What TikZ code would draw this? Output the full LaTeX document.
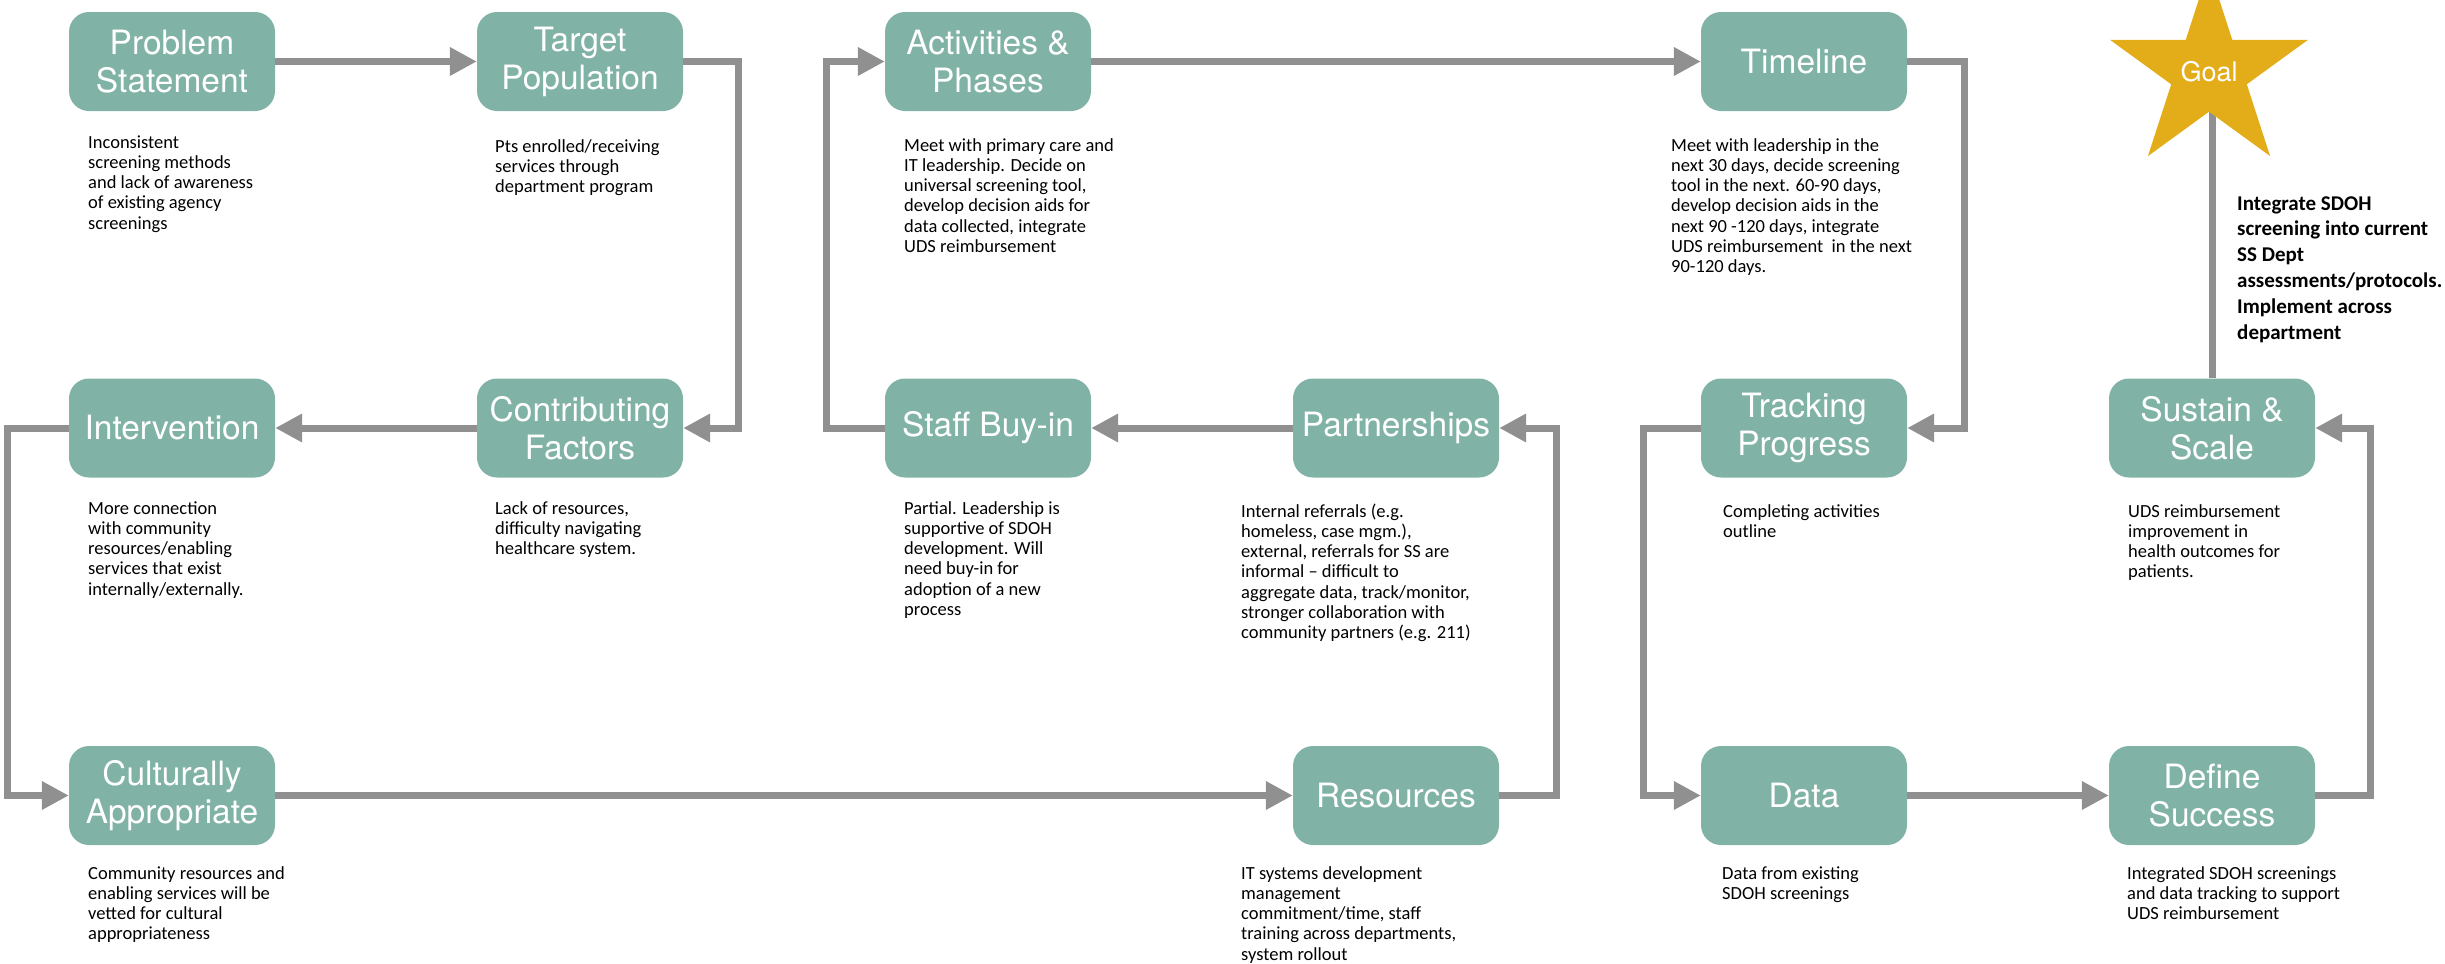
\documentclass[tikz,border=0pt]{standalone}
\usepackage{fontspec}
\setmainfont{Carlito}
\newfontfamily\headfont{TeX Gyre Heros}
\usetikzlibrary{arrows.meta}

\definecolor{boxteal}{HTML}{80B3A6}
\definecolor{goalgold}{HTML}{E3AD1A}
\definecolor{linkgray}{HTML}{909090}

\tikzset{
  stepbox/.style={draw=none, fill=boxteal, rounded corners=20pt,
    minimum width=206pt, minimum height=99pt, inner sep=0pt,
    align=center, text=white,
    font=\headfont\fontsize{33.5}{38}\selectfont},
  % descriptions are placed by the baseline of their last line
  desc/.style={anchor=base west, align=left, inner sep=0pt,
    font=\fontsize{18.5}{20.3}\selectfont},
  goaltext/.style={anchor=base west, align=left, inner sep=0pt,
    font=\bfseries\fontsize{21}{25.8}\selectfont},
  link/.style={draw=linkgray, line width=7pt, line join=miter},
  flow/.style={link, -{Triangle[length=27pt,width=27pt]}}
}

\begin{document}
\begin{tikzpicture}[x=1pt, y=-1pt]
\useasboundingbox (0,0) rectangle (2445,964);
\clip (0,0) rectangle (2445,964);

% ---- step boxes: three rows on a regular grid
\node[stepbox] (ps)  at (172,61.5)   {Problem\\Statement};
\node[stepbox] (tp)  at (580,61.5)   {Target\\Population};
\node[stepbox] (ap)  at (988,61.5)   {Activities \&\\Phases};
\node[stepbox] (tl)  at (1804,61.5)  {Timeline};

\node[stepbox] (iv)  at (172,428)    {Intervention};
\node[stepbox] (cf)  at (580,428)    {Contributing\\Factors};
\node[stepbox] (sb)  at (988,428)    {Staff Buy-in};
\node[stepbox] (pa)  at (1396,428)   {Partnerships};
\node[stepbox] (tr)  at (1804,428)   {Tracking\\Progress};
\node[stepbox] (ss)  at (2212,428)   {Sustain \&\\Scale};

\node[stepbox] (ca)  at (172,795.5)  {Culturally\\Appropriate};
\node[stepbox] (re)  at (1396,795.5) {Resources};
\node[stepbox] (da)  at (1804,795.5) {Data};
\node[stepbox] (ds)  at (2212,795.5) {Define\\Success};

% ---- connectors
\draw[flow] (ps.east) -- (tp.west);
\draw[flow] (tp.east) -- ++(55,0) |- (cf.east);
\draw[flow] (cf.west) -- (iv.east);
\draw[flow] (iv.west) -- ++(-61,0) |- (ca.west);
\draw[flow] (ca.east) -- (re.west);
\draw[flow] (re.east) -- ++(57,0) |- (pa.east);
\draw[flow] (pa.west) -- (sb.east);
\draw[flow] (sb.west) -- ++(-58,0) |- (ap.west);
\draw[flow] (ap.east) -- (tl.west);
\draw[flow] (tl.east) -- ++(57,0) |- (tr.east);
\draw[flow] (tr.west) -- ++(-57,0) |- (da.west);
\draw[flow] (da.east) -- (ds.west);
\draw[flow] (ds.east) -- ++(55,0) |- (ss.east);

% ---- goal star on a stem above Sustain & Scale
\coordinate (gc) at (2209,72);
\draw[link] (gc -| ss.north) -- (ss.north);
\fill[goalgold] (gc)
  ++(0,-104) -- ++(23.3,71.9) -- ++(75.6,0) -- ++(-61.1,44.4)
  -- ++(23.3,71.8) -- ++(-61.1,-44.4) -- ++(-61.1,44.4)
  -- ++(23.3,-71.8) -- ++(-61.1,-44.4) -- ++(75.6,0) -- cycle;
\node[text=white, font=\headfont\fontsize{27}{30}\selectfont, inner sep=0pt] (goal) at (gc) {Goal};

% ---- descriptions under each step
\node[desc] (psd) at (88,229.2) {Inconsistent\\screening methods\\and lack of awareness\\of existing agency\\screenings};
\node[desc] (tpd) at (495,192.6) {Pts enrolled/receiving\\services through\\department program};
\node[desc] (apd) at (904,252.5) {Meet with primary care and\\IT leadership. Decide on\\universal screening tool,\\develop decision aids for\\data collected, integrate\\UDS reimbursement};
\node[desc] (tld) at (1671,272.8) {Meet with leadership in the\\next 30 days, decide screening\\tool in the next. 60-90 days,\\develop decision aids in the\\next 90 -120 days, integrate\\UDS reimbursement\ \ in the next\\90-120 days.};
\node[goaltext] (gd) at (2237,339) {Integrate SDOH\\screening into current\\SS Dept\\assessments/protocols.\\Implement across\\department};

\node[desc] (ivd) at (88,595.2) {More connection\\with community\\resources/enabling\\services that exist\\internally/externally.};
\node[desc] (cfd) at (495,554.6) {Lack of resources,\\difficulty navigating\\healthcare system.};
\node[desc] (sbd) at (904,615.5) {Partial. Leadership is\\supportive of SDOH\\development. Will\\need buy-in for\\adoption of a new\\process};
\node[desc] (pad) at (1241,638.8) {Internal referrals (e.g.\\homeless, case mgm.),\\external, referrals for SS are\\informal – difficult to\\aggregate data, track/monitor,\\stronger collaboration with\\community partners (e.g. 211)};
\node[desc] (trd) at (1723,537.3) {Completing activities\\outline};
\node[desc] (ssd) at (2128,577.9) {UDS reimbursement\\improvement in\\health outcomes for\\patients.};

\node[desc] (cad) at (88,939.9) {Community resources and\\enabling services will be\\vetted for cultural\\appropriateness};
\node[desc] (red) at (1241,960.2) {IT systems development\\management\\commitment/time, staff\\training across departments,\\system rollout};
\node[desc] (dad) at (1722,899.3) {Data from existing\\SDOH screenings};
\node[desc] (dsd) at (2127,919.6) {Integrated SDOH screenings\\and data tracking to support\\UDS reimbursement};
\end{tikzpicture}
\end{document}
